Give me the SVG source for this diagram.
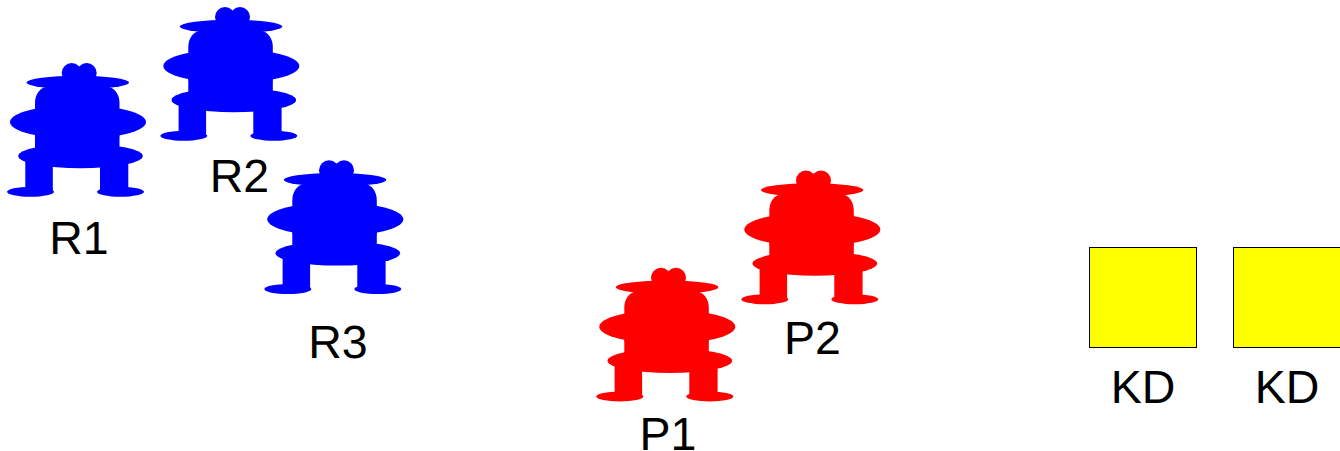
<svg xmlns="http://www.w3.org/2000/svg" width="1340" height="451" viewBox="0 0 1340 451">
<style>
.label{font-family:"Liberation Sans",Arial,sans-serif;font-size:46.500px;fill:#000;text-anchor:middle;text-rendering:geometricPrecision}
.kd{fill:#ff0;stroke:#000;stroke-width:1}
.blue{fill:#00f}
.red{fill:#f00}
</style>
<defs>
<g id="fig">
<circle cx="71.700" cy="73" r="10"/>
<circle cx="86.700" cy="73" r="10"/>
<ellipse cx="77.800" cy="82.500" rx="51.200" ry="6.800"/>
<rect x="35" y="87" width="84.500" height="62" rx="12" ry="16"/>
<rect x="35" y="110" width="84.500" height="45"/>
<ellipse cx="78" cy="122" rx="68" ry="17"/>
<ellipse cx="80.500" cy="156" rx="62.300" ry="12.300"/>
<rect x="25.300" y="156" width="27.500" height="36"/>
<rect x="100" y="156" width="28.300" height="36"/>
<ellipse cx="30.500" cy="191.800" rx="23.500" ry="5"/>
<ellipse cx="120.500" cy="191.800" rx="23.500" ry="5"/>
</g>
</defs>
<g id="connectors"/>
<g id="R1" class="blue"><use href="#fig"/><text class="label" x="79" y="254">R1</text></g>
<g id="R2" class="blue"><use href="#fig" transform="translate(153.300,-56)"/><text class="label" x="239.500" y="191.500">R2</text></g>
<g id="R3" class="blue"><use href="#fig" transform="translate(257.300,97.300)"/><text class="label" x="338" y="357.500">R3</text></g>
<g id="P1" class="red"><use href="#fig" transform="translate(589.300,204.700)"/><text class="label" x="668" y="449.500">P1</text></g>
<g id="P2" class="red"><use href="#fig" transform="translate(734.300,107.500)"/><text class="label" x="812.500" y="354">P2</text></g>
<g id="KD1"><rect class="kd" x="1089.500" y="247.500" width="107" height="100"/><text class="label" x="1143" y="403">KD</text></g>
<g id="KD2"><rect class="kd" x="1233.500" y="247.500" width="107" height="100"/><text class="label" x="1287" y="403">KD</text></g>
</svg>
